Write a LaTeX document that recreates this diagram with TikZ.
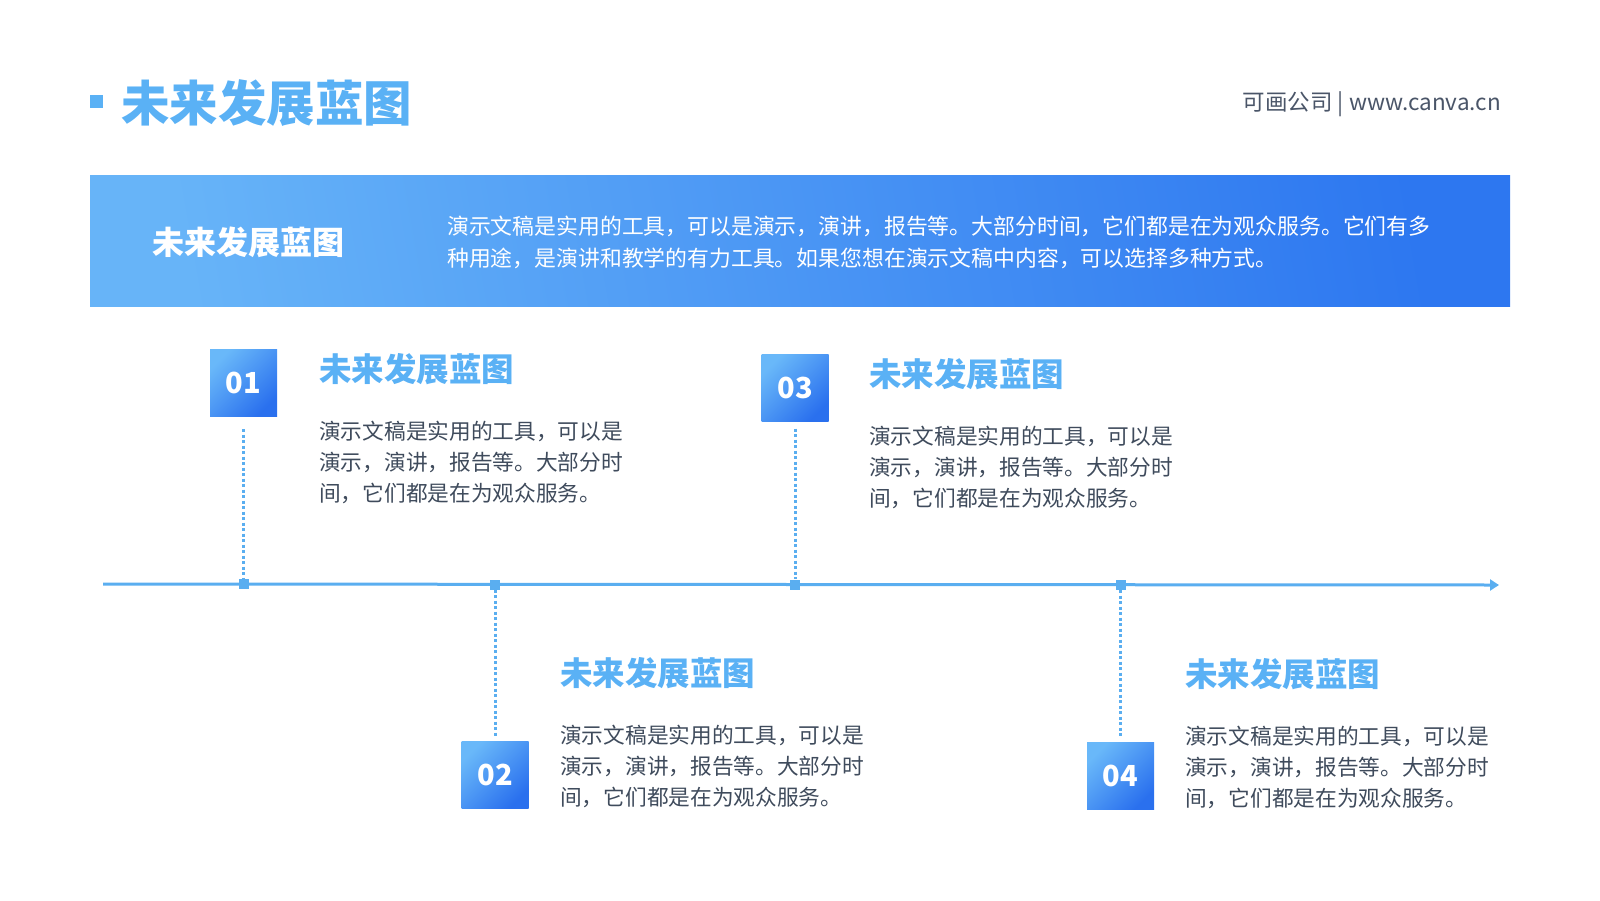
\documentclass[tikz,border=0pt]{standalone}
\usepackage{fontspec}
\setmainfont{Noto Sans CJK SC}
\usetikzlibrary{arrows.meta}
\definecolor{titlec}{HTML}{5AB1F5}
\definecolor{boxlt}{HTML}{69B8F9}
\definecolor{boxdk}{HTML}{2A70EE}
\definecolor{bandlt}{HTML}{67B4F8}
\definecolor{banddk}{HTML}{2D77F0}
\definecolor{bodyc}{HTML}{3F4B5C}
\definecolor{topc}{HTML}{4A5568}
\definecolor{axisc}{HTML}{5AAEF0}
\begin{document}
\begin{tikzpicture}[x=1pt, y=-1pt,
		num/.style = {top color=boxlt, bottom color=boxdk, shading angle=45, minimum width=67pt, minimum height=67pt, inner sep=0pt, text=white, font=\bfseries\fontsize{29}{29}\selectfont},
		mk/.style = {fill=axisc, minimum size=10pt, inner sep=0pt},
		head/.style = {anchor=west, inner sep=0pt, text=titlec, font=\bfseries\fontsize{32.5}{32.5}\selectfont},
		body/.style = {anchor=north west, align=left, inner sep=0pt, text=bodyc, font=\fontsize{21.7}{31}\selectfont},
		dots/.style = {draw=axisc, line width=3pt, dash pattern=on 3pt off 2.5pt}]
		\useasboundingbox (0,0) rectangle (1600,900);
		\node[fill=titlec, minimum size=13pt, inner sep=0pt] (sq) at (96.5,101.5) {};
		\node[anchor=west, inner sep=0pt, text=titlec, font=\bfseries\fontsize{48.5}{48.5}\selectfont] (title) at (121,103.5) {未来发展蓝图};
		\node[anchor=east, inner sep=0pt, text=topc, font=\fontsize{22.5}{22.5}\selectfont] (brand) at (1501,104) {可画公司 | www.canva.cn};
		\node[left color=bandlt, right color=banddk, shading angle=100, minimum width=1420pt, minimum height=131pt, inner sep=0pt] (band) at (800,241) {};
		\node[anchor=west, inner sep=0pt, text=white, font=\bfseries\fontsize{32}{32}\selectfont] (bandt) at (152,242) {未来发展蓝图};
		\node[anchor=north west, align=left, inner sep=0pt, text=white, font=\fontsize{21.85}{31.5}\selectfont] (bandp) at (447,216) {演示文稿是实用的工具，可以是演示，演讲，报告等。大部分时间，它们都是在为观众服务。它们有多\\种用途，是演讲和教学的有力工具。如果您想在演示文稿中内容，可以选择多种方式。};
		\coordinate (axs) at (103,584);
		\coordinate (axe) at (1499,585);
		\draw[axisc, line width=3pt, -{Triangle[length=9pt, width=11pt]}] (axs) -- (axe);
		\node[mk] (m1) at (243.5,584) {};
		\node[mk] (m2) at (495,584.5) {};
		\node[mk] (m3) at (795,584.5) {};
		\node[mk] (m4) at (1120.5,585) {};
		\node[num] (b1) at (243.5,382.5) {01};
		\node[num] (b2) at (495,775) {02};
		\node[num] (b3) at (795,388) {03};
		\node[num] (b4) at (1120.5,776) {04};
		\draw[dots, shorten <=13pt] (b1) -- (m1);
		\draw[dots, shorten <=7pt] (b3) -- (m3);
		\draw[dots, shorten >=5pt] (m2) -- (b2);
		\draw[dots, shorten >=4pt] (m4) -- (b4);
		\node[head] (h1) at (319,369) {未来发展蓝图};
		\node[body] (t1) at (319,420.5) {演示文稿是实用的工具，可以是\\演示，演讲，报告等。大部分时\\间，它们都是在为观众服务。};
		\node[head] (h2) at (560,673.5) {未来发展蓝图};
		\node[body] (t2) at (560,724.5) {演示文稿是实用的工具，可以是\\演示，演讲，报告等。大部分时\\间，它们都是在为观众服务。};
		\node[head] (h3) at (869,374.5) {未来发展蓝图};
		\node[body] (t3) at (869,425.5) {演示文稿是实用的工具，可以是\\演示，演讲，报告等。大部分时\\间，它们都是在为观众服务。};
		\node[head] (h4) at (1185,674.5) {未来发展蓝图};
		\node[body] (t4) at (1185,725.5) {演示文稿是实用的工具，可以是\\演示，演讲，报告等。大部分时\\间，它们都是在为观众服务。};
	\end{tikzpicture}
\end{document}
